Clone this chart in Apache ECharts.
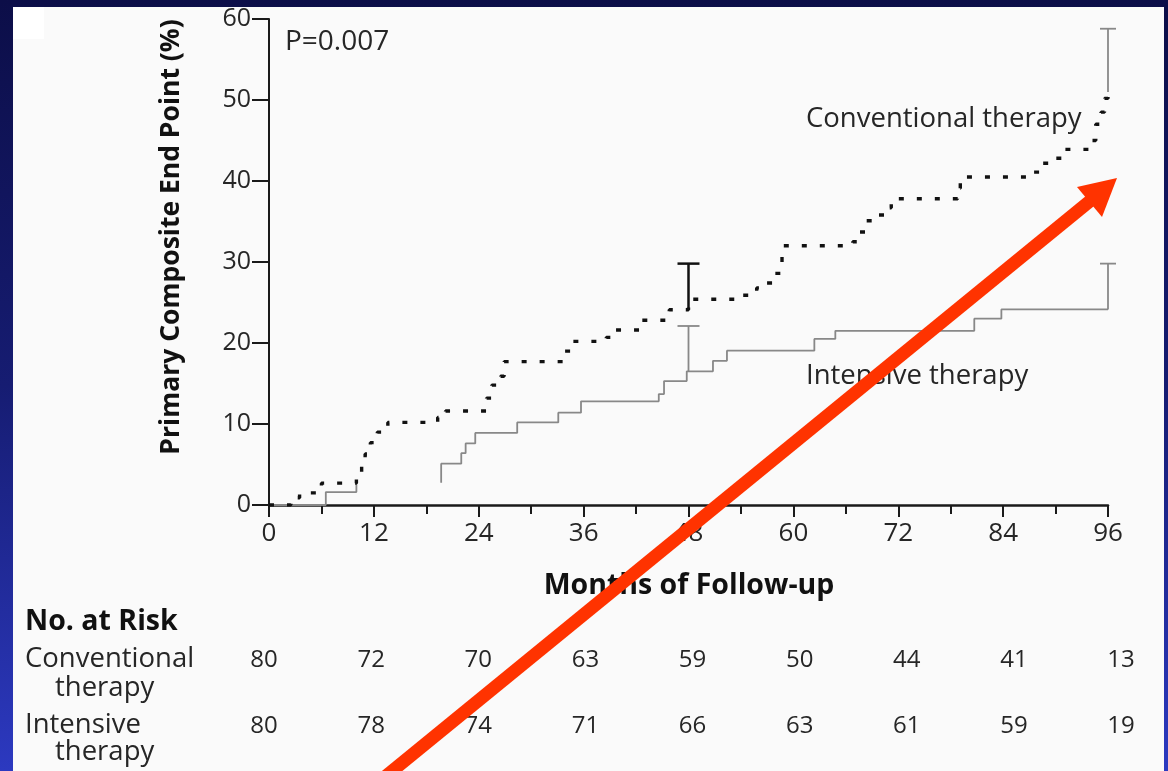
<!DOCTYPE html>
<html>
<head>
<meta charset="utf-8">
<script src="https://cdn.jsdelivr.net/npm/echarts@6/dist/echarts.min.js"></script>
<style>
html,body{margin:0;padding:0;width:1168px;height:771px;overflow:hidden;background:#0c0e48;}
#c{width:1168px;height:771px;}
</style>
</head>
<body>
<div id="c"></div>
<script>
// ---- data ----
var monthTicks = [0, 12, 24, 36, 48, 60, 72, 84, 96];
var conventional = [
  [0,0],[2.5,0.9],[3.5,1.5],[6.0,2.7],[10.0,3.7],[10.6,5.0],[11.0,6.3],[11.6,7.7],[12.4,9.0],
  [13.6,10.2],[19.3,10.8],[20.2,11.6],[24.9,13.2],[25.5,14.8],[26.5,15.9],[26.9,17.7],
  [33.6,19.0],[34.5,20.2],[38.6,20.7],[39.4,21.6],[42.5,22.8],[45.8,24.1],[48,25.4],
  [54.2,25.9],[55.8,26.8],[56.9,27.4],[57.8,28.6],[58.7,32.0],[66.8,32.5],[67.4,33.7],
  [68.3,35.1],[69.6,35.8],[70.7,36.7],[71.2,37.8],[78.8,39.1],[79.1,40.5],[87.3,41.1],
  [88.5,42.2],[90.0,42.8],[90.9,43.9],[94.0,45.0],[94.6,47.0],[95.2,48.5],[95.6,50.2],[96,51.0]
];
var intensiveEarly = [[0,0],[6.5,1.6],[10.0,2.7]];
var intensiveLate = [
  [19.7,2.75],[19.7,5.1],[22.0,6.4],[22.5,7.6],[23.6,8.9],[28.4,10.2],[33.1,11.4],[35.7,12.8],
  [44.6,13.7],[45.2,15.3],[47.8,16.5],[50.8,17.8],[52.4,19.05],[62.4,20.5],[64.8,21.5],
  [80.7,23.0],[83.8,24.15],[96,24.15]
];
// [month, low, high]
var convCI = [[48, 24.2, 29.8], [96, 51.0, 58.8]];
var intCI = [[48, 16.5, 22.1], [96, 24.15, 29.8]];
var riskConventional = [80, 72, 70, 63, 59, 50, 44, 41, 13];
var riskIntensive = [80, 78, 74, 71, 66, 63, 61, 59, 19];

// ---- chart ----
var FONT = '"Open Sans"';
var TXT = '#262626';
var chart = echarts.init(document.getElementById('c'), null, {renderer: 'canvas'});

function ciRender(capHalf, colors, widths) {
  return function (params, api) {
    var x = api.value(0), lo = api.value(1), hi = api.value(2);
    var p0 = api.coord([x, lo]);
    var p1 = api.coord([x, hi]);
    var i = params.dataIndex;
    var st = {stroke: colors[i], lineWidth: widths[i]};
    return {
      type: 'group',
      children: [
        {type: 'line', shape: {x1: p0[0], y1: p0[1], x2: p1[0], y2: p1[1]}, style: st},
        {type: 'line', shape: {x1: p1[0] - capHalf[i], y1: p1[1], x2: p1[0] + capHalf[i], y2: p1[1]}, style: st}
      ]
    };
  };
}

var riskConvData = riskConventional.map(function (v, i) { return [monthTicks[i], 1, v]; });
var riskIntData = riskIntensive.map(function (v, i) { return [monthTicks[i], 0, v]; });

function riskRender(params, api) {
  var p = api.coord([api.value(0), api.value(1)]);
  return {
    type: 'text', x: p[0], y: p[1],
    style: {text: String(api.value(2)), x: 0, y: 0, fontFamily: FONT, fontSize: 24, fill: TXT,
      align: 'center', verticalAlign: 'middle'}
  };
}

function txt(text, x, y, size, weight, align, rotation) {
  var o = {
    type: 'text', z: 50, x: x, y: y,
    style: {text: text, x: 0, y: 0, fontFamily: FONT, fontSize: size, fontWeight: weight || 'normal',
      fill: weight === 'bold' ? '#111' : TXT, align: align || 'left', verticalAlign: 'middle'}
  };
  if (rotation) o.rotation = rotation;
  return o;
}

var option = {
  animation: false,
  backgroundColor: new echarts.graphic.LinearGradient(0, 0, 0, 1, [
    {offset: 0, color: '#0c0e48'}, {offset: 0.5, color: '#161c72'}, {offset: 1, color: '#2c39c0'}
  ]),
  grid: [
    {left: 269, right: 60, top: 19, bottom: 266},
    {left: 264, right: 47, top: 660, bottom: 45}
  ],
  xAxis: [
    {
      type: 'value', gridIndex: 0, min: 0, max: 96, interval: 12,
      axisLine: {show: true, onZero: false, lineStyle: {color: '#1a1a1a', width: 2.5}},
      axisTick: {show: true, length: 12, lineStyle: {color: '#1a1a1a', width: 2}},
      minorTick: {show: true, splitNumber: 2, length: 9, lineStyle: {color: '#1a1a1a', width: 2}},
      splitLine: {show: false},
      axisLabel: {margin: 16, fontFamily: FONT, fontSize: 26, color: TXT}
    },
    {type: 'value', gridIndex: 1, min: 0, max: 96, show: false}
  ],
  yAxis: [
    {
      type: 'value', gridIndex: 0, min: 0, max: 60, interval: 10,
      axisLine: {show: true, onZero: false, lineStyle: {color: '#1a1a1a', width: 2}},
      axisTick: {show: true, length: 17, lineStyle: {color: '#1a1a1a', width: 2}},
      splitLine: {show: false},
      axisLabel: {margin: 18, fontFamily: FONT, fontSize: 25, color: TXT}
    },
    {type: 'value', gridIndex: 1, min: 0, max: 1, show: false}
  ],
  graphic: [
    {type: 'rect', z: -10, shape: {x: 13, y: 7, width: 1151, height: 780}, style: {fill: '#fafafa'}},
    {type: 'rect', z: -9, shape: {x: 13, y: 7, width: 31, height: 32}, style: {fill: '#ffffff'}},
    txt('P=0.007', 285, 42, 28),
    txt('Conventional therapy', 806, 119, 27.5),
    txt('Intensive therapy', 806, 376, 27.5),
    txt('Primary Composite End Point (%)', 171, 237, 26.5, 'bold', 'center', Math.PI / 2),
    txt('Months of Follow-up', 689, 586, 28.5, 'bold', 'center'),
    txt('No. at Risk', 25, 622, 28.5, 'bold'),
    txt('Conventional', 25, 659, 27.5),
    txt('therapy', 55, 688, 27.5),
    txt('Intensive', 25, 725, 27.5),
    txt('therapy', 55, 752, 27.5),
    {type: 'line', z: 100, shape: {x1: 386, y1: 776, x2: 1090, y2: 201}, style: {stroke: '#ff3300', lineWidth: 13}},
    {type: 'polygon', z: 100, shape: {points: [[1117, 178], [1077, 187], [1102, 217]]}, style: {fill: '#ff3300'}}
  ],
  series: [
    {
      name: 'Conventional therapy', type: 'line', step: 'end', data: conventional,
      xAxisIndex: 0, yAxisIndex: 0, symbol: 'none', z: 5,
      lineStyle: {color: '#111', width: 3.4, type: [5, 13]}
    },
    {
      name: 'Intensive therapy', type: 'line', step: 'end', data: intensiveEarly,
      symbol: 'none', z: 4, lineStyle: {color: '#888', width: 1.8}
    },
    {
      name: 'Intensive therapy late', type: 'line', step: 'end', data: intensiveLate,
      symbol: 'none', z: 4, lineStyle: {color: '#888', width: 1.8}
    },
    {
      type: 'custom', data: convCI, z: 6, encode: {x: 0, y: [1, 2]},
      renderItem: ciRender([11, 8], ['#111', '#888'], [2.5, 1.8])
    },
    {
      type: 'custom', data: intCI, z: 6, encode: {x: 0, y: [1, 2]},
      renderItem: ciRender([11, 8], ['#888', '#888'], [1.8, 1.8])
    },
    {
      type: 'custom', xAxisIndex: 1, yAxisIndex: 1, data: riskConvData, z: 20,
      encode: {x: 0, y: 1}, renderItem: riskRender
    },
    {
      type: 'custom', xAxisIndex: 1, yAxisIndex: 1, data: riskIntData, z: 20,
      encode: {x: 0, y: 1}, renderItem: riskRender
    }
  ]
};
chart.setOption(option);
</script>
</body>
</html>
